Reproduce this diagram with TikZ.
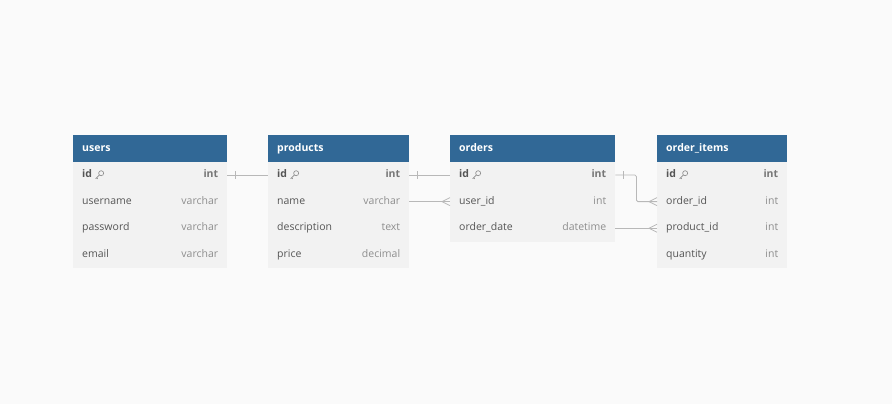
\documentclass[tikz,border=0pt]{standalone}
\usepackage{fontspec}
\setmainfont{Open Sans}
\usetikzlibrary{calc}
\definecolor{bg}{HTML}{FAFAFA}
\definecolor{hdr}{HTML}{316896}
\definecolor{rowbg}{HTML}{F2F2F2}
\definecolor{fldc}{HTML}{555555}
\definecolor{typc}{HTML}{8E8E8E}
\definecolor{linec}{HTML}{B8B8B8}
\tikzset{
  hdrbox/.style={fill=hdr, anchor=north west, inner sep=0pt, minimum height=26.4pt},
  hdrtxt/.style={text=white, font=\bfseries\fontsize{10.5}{12}\selectfont, inner sep=0pt, anchor=west, text height=7.8pt, text depth=2.4pt},
  rowbox/.style={fill=rowbg, anchor=north west, inner sep=0pt, minimum height=26.6pt},
  fldtxt/.style={text=fldc, font=\fontsize{10.5}{12}\selectfont, inner sep=0pt, anchor=west, text height=7.8pt, text depth=2.4pt},
  typtxt/.style={text=typc, font=\fontsize{10.5}{12}\selectfont, inner sep=0pt, anchor=east, text height=7.8pt, text depth=2.4pt},
  pkfld/.style={fldtxt, font=\bfseries\fontsize{10.5}{12}\selectfont},
  pktyp/.style={typtxt, text=fldc!80!white, font=\bfseries\fontsize{10.5}{12}\selectfont},
  conn/.style={draw=linec, line width=0.8pt},
  pkey/.pic={
    \draw[typc, line width=0.65pt] (1.9,-1.5) circle (2.5);
    \draw[typc, line width=0.65pt] (0.1,0.3) -- (-3.6,4) (-2.6,3) -- (-1.5,4.1);
  }
}
% \tabhead{name}{x}{y}{w}{title}
\newcommand{\tabhead}[5]{%
  \node[hdrbox, minimum width=#4] (#1) at (#2,#3) {};
  \node[hdrtxt] (#1-title) at ($(#1.west)+(9,0)$) {#5};}
% \tabrow{name}{x}{y}{w}{field}{type}
\newcommand{\tabrow}[6]{%
  \node[rowbox, minimum width=#4] (#1) at (#2,#3) {};
  \node[fldtxt] (#1-f) at ($(#1.west)+(9,0)$) {#5};
  \node[typtxt] (#1-t) at ($(#1.east)+(-9,0)$) {#6};}
\newcommand{\pkrow}[6]{%
  \node[rowbox, minimum width=#4] (#1) at (#2,#3) {};
  \node[pkfld] (#1-f) at ($(#1.west)+(9,0)$) {#5};
  \node[pktyp] (#1-t) at ($(#1.east)+(-9,0)$) {#6};
  \pic at ($(#1-f.east)+(7,-0.3)$) {pkey};}
\begin{document}
\begin{tikzpicture}[x=1pt,y=-1pt]
\fill[bg] (0,0) rectangle (892,404);
\useasboundingbox (0,0) rectangle (892,404);
% users
\tabhead{users}{73}{135.2}{154}{users}
\pkrow{users-id}{73}{161.5}{154}{id}{int}
\tabrow{users-username}{73}{188.1}{154}{username}{varchar}
\tabrow{users-password}{73}{214.7}{154}{password}{varchar}
\tabrow{users-email}{73}{241.3}{154}{email}{varchar}
% products
\tabhead{products}{268}{135.2}{141}{products}
\pkrow{products-id}{268}{161.5}{141}{id}{int}
\tabrow{products-name}{268}{188.1}{141}{name}{varchar}
\tabrow{products-description}{268}{214.7}{141}{description}{text}
\tabrow{products-price}{268}{241.3}{141}{price}{decimal}
% orders
\tabhead{orders}{450}{135.2}{165}{orders}
\pkrow{orders-id}{450}{161.5}{165}{id}{int}
\tabrow{orders-userid}{450}{188.1}{165}{user\_id}{int}
\tabrow{orders-orderdate}{450}{214.7}{165}{order\_date}{datetime}
% order_items
\tabhead{oi}{657}{135.2}{130}{order\_items}
\pkrow{oi-id}{657}{161.5}{130}{id}{int}
\tabrow{oi-orderid}{657}{188.1}{130}{order\_id}{int}
\tabrow{oi-productid}{657}{214.7}{130}{product\_id}{int}
\tabrow{oi-quantity}{657}{241.3}{130}{quantity}{int}
% connectors
\draw[conn] (users-id.east) -- (products-id.west);
\draw[conn] ($(users-id.east)+(8,-4)$) -- ++(0,8);
\draw[conn] (products-id.east) -- (orders-id.west);
\draw[conn] ($(products-id.east)+(8,-4)$) -- ++(0,8);
\draw[conn] (products-name.east) -- (orders-userid.west);
\draw[conn] ($(orders-userid.west)+(0,-4)$) -- ++(-8,4) -- ++(8,4);
\draw[conn, rounded corners=1.5pt] (orders-id.east) -- ++(21,0) |- (oi-orderid.west);
\draw[conn] ($(orders-id.east)+(8,-4)$) -- ++(0,8);
\draw[conn] ($(oi-orderid.west)+(0,-4)$) -- ++(-8,4) -- ++(8,4);
\draw[conn] (orders-orderdate.east) -- (oi-productid.west);
\draw[conn] ($(oi-productid.west)+(0,-4)$) -- ++(-8,4) -- ++(8,4);
\end{tikzpicture}
\end{document}
